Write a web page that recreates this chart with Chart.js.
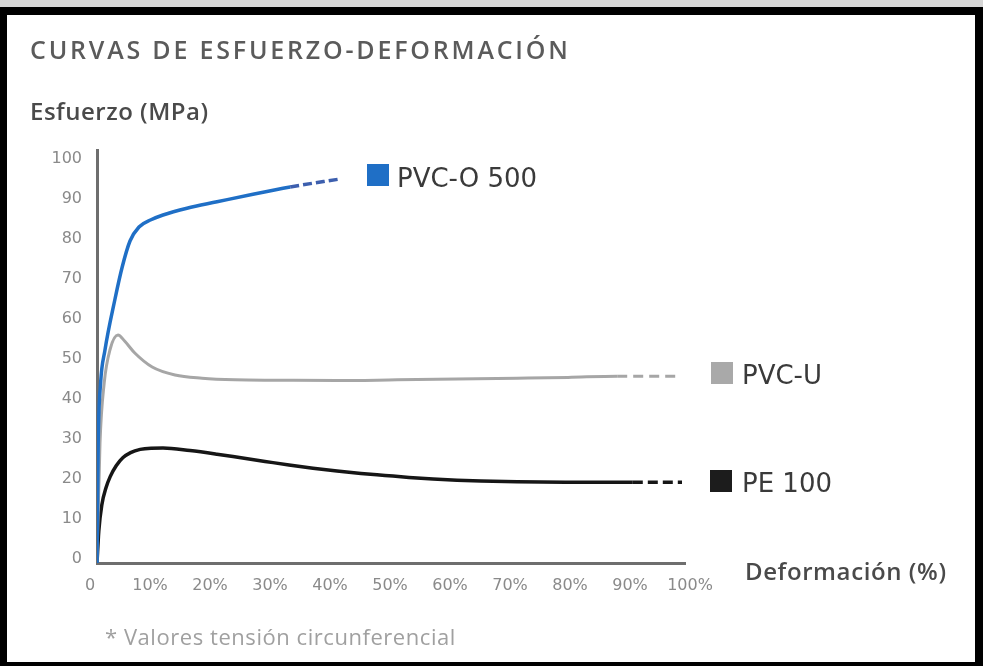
<!DOCTYPE html>
<html><head><meta charset="utf-8">
<script src="https://cdn.jsdelivr.net/npm/chart.js@4/dist/chart.umd.min.js"></script>
<style>
html,body{margin:0;padding:0;width:983px;height:666px;overflow:hidden;background:#d6d6d6;}
#frame{position:absolute;left:0;top:7px;width:968px;height:647px;border-style:solid;border-color:#000;border-width:8px 8px 4px 7px;background:#fff;}
#c{position:absolute;left:0;top:0;width:983px;height:666px;}
.t{position:absolute;white-space:nowrap;line-height:1;}
#title{left:30px;top:32px;font:600 25px "Open Sans";color:#5b5b5b;letter-spacing:2.8px;}
#ytitle{left:30px;top:94px;font:600 24px "Open Sans";color:#4a4a4a;letter-spacing:0.5px;}
#xtitle{left:745px;top:554px;font:600 24px "Open Sans";color:#4a4a4a;letter-spacing:0.6px;}
#note{left:105px;top:621px;font:400 22px "Open Sans";color:#a0a0a0;letter-spacing:0.55px;}
.lg{position:absolute;white-space:nowrap;line-height:1;font:400 26px "DejaVu Sans";color:#3a3a3a;}
.sq{position:absolute;width:22px;height:22px;}
</style></head>
<body>
<div id="frame"></div>
<canvas id="c" width="983" height="666"></canvas>
<div class="t" id="title">CURVAS DE ESFUERZO-DEFORMACIÓN</div>
<div class="t" id="ytitle">Esfuerzo (MPa)</div>
<div class="t" id="xtitle">Deformación (%)</div>
<div class="t" id="note">* Valores tensión circunferencial</div>
<div class="sq" style="left:367px;top:164px;background:#1f6fc6"></div>
<div class="lg" style="left:397px;top:163px">PVC-O 500</div>
<div class="sq" style="left:711px;top:362px;background:#a9a9a9"></div>
<div class="lg" style="left:742px;top:360px">PVC-U</div>
<div class="sq" style="left:710px;top:470px;background:#1c1c1c"></div>
<div class="lg" style="left:742px;top:468px">PE 100</div>
<script>
// Tick values and labels
const xTickValues = [0,10,20,30,40,50,60,70,80,90,100];
const xTickLabels = ["0","10%","20%","30%","40%","50%","60%","70%","80%","90%","100%"];
const yTickValues = [0,10,20,30,40,50,60,70,80,90,100];

// PVC-O 500 (strain %, stress MPa)
const pvcoStrain = [0, 0.2, 0.6, 1.3, 3.0, 4.2, 5.5, 7.0, 9.0, 11, 15, 20, 26, 32.2, 40.5];
const pvcoStress = [0, 30, 45, 53, 66, 74, 80.5, 84, 85.8, 87, 88.7, 90.3, 92.2, 94, 96];
const pvcoDashFrom = 32.2;

// PVC-U
const pvcuStrain = [0, 0.5, 1.2, 2.2, 3.5, 4.6, 6.3, 9.2, 13, 17.5, 23, 30, 40, 50, 60, 70, 78.5, 86.7, 96.8];
const pvcuStress = [0, 30, 45, 53.5, 57, 55.5, 52.5, 49, 47, 46.2, 45.8, 45.7, 45.6, 45.8, 46, 46.2, 46.4, 46.7, 46.7];
const pvcuDashFrom = 86.7;

// PE 100
const peStrain = [0, 0.3, 0.8, 1.5, 2.2, 3.2, 4.3, 5.6, 7.2, 9, 11, 15.5, 20, 24, 28, 32, 36, 40, 44, 48, 52, 56, 60, 64, 70, 78, 89.3, 97.5];
const peStress = [0, 8, 14.5, 18.8, 21.6, 24.3, 26.3, 27.6, 28.4, 28.7, 28.75, 28.1, 27.2, 26.3, 25.4, 24.5, 23.7, 23, 22.4, 21.9, 21.4, 21, 20.7, 20.5, 20.3, 20.2, 20.2, 20.2];
const peDashFrom = 89.3;

const pts = (xs, ys) => xs.map((x, i) => ({x: x, y: ys[i]}));

function series(label, xs, ys, color, dashColor, width, dashFrom, dash) {
  return {
    label: label,
    data: pts(xs, ys),
    borderColor: color,
    borderWidth: width,
    pointRadius: 0,
    fill: false,
    cubicInterpolationMode: 'monotone',
    segment: {
      borderDash: ctx => ctx.p0.parsed.x >= dashFrom ? dash : [],
      borderColor: ctx => ctx.p0.parsed.x >= dashFrom ? dashColor : color
    }
  };
}

new Chart(document.getElementById('c'), {
  type: 'line',
  data: {
    datasets: [
      series('PVC-O 500', pvcoStrain, pvcoStress, '#1f6fc6', '#3d5fae', 3.5, pvcoDashFrom, [9, 4]),
      series('PVC-U', pvcuStrain, pvcuStress, '#a6a6a6', '#a6a6a6', 3, pvcuDashFrom, [10, 6]),
      series('PE 100', peStrain, peStress, '#161616', '#161616', 3.5, peDashFrom, [10, 5])
    ]
  },
  options: {
    responsive: false,
    animation: false,
    devicePixelRatio: 1,
    layout: {padding: {left: 0, right: 298, top: 150, bottom: 0}},
    plugins: {legend: {display: false}, tooltip: {enabled: false}},
    scales: {
      x: {
        type: 'linear', min: 0, max: 98,
        afterBuildTicks: s => { s.ticks = xTickValues.map(v => ({value: v})); },
        afterFit: s => { s.height = 103; },
        grid: {display: false, drawTicks: false},
        border: {display: true, color: '#6e6e6e', width: 3},
        ticks: {
          autoSkip: false, maxRotation: 0, padding: 13, labelOffset: -7,
          color: '#8a8a8a', font: {family: 'DejaVu Sans', size: 16},
          callback: (v, i) => xTickLabels[i]
        }
      },
      y: {
        type: 'linear', min: 0, max: 103.25,
        afterBuildTicks: s => { s.ticks = yTickValues.map(v => ({value: v})); },
        afterFit: s => { s.width = 97; },
        grid: {display: false, drawTicks: false},
        border: {display: true, color: '#6e6e6e', width: 3},
        ticks: {
          autoSkip: false, padding: 15, labelOffset: -4,
          color: '#8a8a8a', font: {family: 'DejaVu Sans', size: 16}
        }
      }
    }
  }
});
</script>
</body></html>
